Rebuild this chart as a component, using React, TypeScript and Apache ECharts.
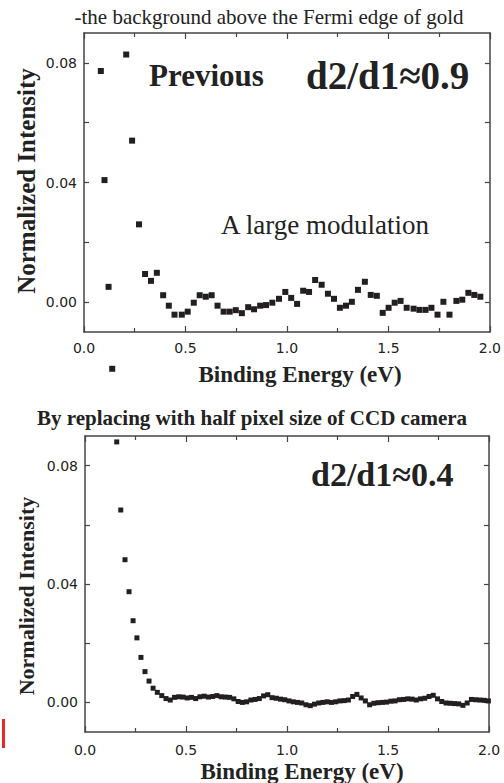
import React, { useEffect, useRef } from "react";
import * as echarts from "echarts";

const topX = [0.083, 0.101, 0.121, 0.139, 0.208, 0.237, 0.271, 0.301, 0.33, 0.359, 0.39, 0.418, 0.446, 0.482, 0.511, 0.541, 0.57, 0.6, 0.629, 0.658, 0.688, 0.718, 0.748, 0.778, 0.809, 0.838, 0.868, 0.897, 0.928, 0.961, 0.992, 1.021, 1.05, 1.08, 1.109, 1.139, 1.171, 1.202, 1.232, 1.261, 1.291, 1.32, 1.35, 1.384, 1.413, 1.443, 1.472, 1.501, 1.531, 1.56, 1.59, 1.624, 1.653, 1.683, 1.712, 1.742, 1.771, 1.801, 1.835, 1.864, 1.894, 1.923, 1.953];
const topY = [0.0773, 0.0408, 0.0051, -0.0223, 0.0828, 0.054, 0.026, 0.0094, 0.0071, 0.0098, 0.0023, -0.0012, -0.0042, -0.0042, -0.0032, -0.0002, 0.0023, 0.0018, 0.0023, -0.0012, -0.0032, -0.0032, -0.0027, -0.0037, -0.0017, -0.0024, -0.0012, -0.001, -0.0002, 0.0011, 0.0034, 0.0014, -0.0006, 0.0038, 0.0034, 0.0074, 0.0058, 0.0028, 0.0011, -0.0019, -0.0012, 0.0001, 0.0041, 0.0068, 0.0024, 0.0021, -0.0036, -0.0019, -0.0002, 0.0004, -0.0019, -0.0022, -0.0026, -0.0026, -0.0019, -0.0042, 0.0001, -0.0042, 0.0004, 0.0008, 0.0031, 0.0024, 0.0018];

const bottomX = [0.157, 0.177, 0.198, 0.218, 0.238, 0.257, 0.277, 0.297, 0.317, 0.337, 0.358, 0.38, 0.401, 0.422, 0.443, 0.464, 0.485, 0.506, 0.527, 0.548, 0.569, 0.59, 0.611, 0.632, 0.653, 0.674, 0.695, 0.716, 0.737, 0.758, 0.779, 0.8, 0.821, 0.842, 0.863, 0.884, 0.905, 0.926, 0.947, 0.968, 0.989, 1.01, 1.031, 1.052, 1.073, 1.094, 1.115, 1.136, 1.157, 1.178, 1.199, 1.22, 1.241, 1.262, 1.283, 1.304, 1.325, 1.346, 1.367, 1.388, 1.409, 1.43, 1.451, 1.472, 1.493, 1.514, 1.535, 1.556, 1.577, 1.598, 1.619, 1.64, 1.661, 1.682, 1.703, 1.724, 1.745, 1.766, 1.787, 1.808, 1.829, 1.85, 1.871, 1.892, 1.913, 1.934, 1.955, 1.976, 1.997];
const bottomY = [0.088, 0.065, 0.0482, 0.0374, 0.0276, 0.0218, 0.0152, 0.0104, 0.0072, 0.0048, 0.0034, 0.0023, 0.0013, 0.0008, 0.0017, 0.0019, 0.0018, 0.0015, 0.0017, 0.0013, 0.0019, 0.0021, 0.0018, 0.002, 0.0023, 0.0019, 0.0018, 0.0017, 0.0012, 0.0003, 0.0, 0.0002, 0.0008, 0.001, 0.0013, 0.0022, 0.0026, 0.0016, 0.0014, 0.0011, 0.0009, 0.0005, 0.0002, 0.0, -0.0002, -0.0008, -0.0011, -0.0006, -0.0002, 0.0, 0.0002, 0.0, 0.0002, 0.0005, 0.0006, 0.0008, 0.002, 0.0027, 0.0015, 0.0005, -0.0008, -0.0003, -0.0001, 0.0, 0.0001, 0.0004, 0.0005, 0.0009, 0.001, 0.0012, 0.0011, 0.0008, 0.0012, 0.0014, 0.002, 0.0024, 0.0012, 0.0003, -0.0002, -0.0003, -0.0004, -0.0005, -0.001, -0.0002, 0.001, 0.0009, 0.0008, 0.0007, 0.0005];

const yTickValues = [0, 0.02, 0.04, 0.06, 0.08];
const yLabelValues = [0, 0.04, 0.08];

const AXIS_COLOR = "#444";
const MARK_COLOR = "#231f20";

function xAxisDef(gridIndex: number, position: "top" | "bottom", showLabel: boolean, labelMargin: number) {
  return {
    type: "value",
    gridIndex,
    position,
    min: 0,
    max: 2,
    interval: 0.5,
    axisLine: { show: true, onZero: false, lineStyle: { color: AXIS_COLOR, width: 1.5 } },
    axisTick: { show: true, inside: true, length: 6, lineStyle: { color: AXIS_COLOR, width: 1.2 } },
    minorTick: { show: true, splitNumber: 2, length: 4, lineStyle: { color: AXIS_COLOR, width: 1.2 } },
    splitLine: { show: false },
    axisLabel: {
      show: showLabel,
      margin: labelMargin,
      fontFamily: "DejaVu Sans",
      fontSize: 14,
      color: "#222",
      formatter: (v: number) => v.toFixed(1),
    },
  };
}

function yAxisDef(gridIndex: number, position: "left" | "right", showLabel: boolean) {
  return {
    type: "value",
    gridIndex,
    position,
    min: -0.01,
    max: 0.09,
    axisLine: { show: true, onZero: false, lineStyle: { color: AXIS_COLOR, width: 1.5 } },
    axisTick: {
      show: true,
      inside: true,
      length: 5,
      customValues: yTickValues,
      lineStyle: { color: AXIS_COLOR, width: 1.2 },
    },
    splitLine: { show: false },
    axisLabel: {
      show: showLabel,
      margin: 7,
      customValues: yLabelValues,
      fontFamily: "DejaVu Sans",
      fontSize: 14,
      color: "#222",
      formatter: (v: number) => v.toFixed(2),
    },
  };
}

export default function App() {
  const ref = useRef<HTMLDivElement>(null);
  useEffect(() => {
    if (!ref.current) return;
    const chart = echarts.init(ref.current, undefined, { renderer: "svg" });
    const topData = topX.map((x, i) => [x, topY[i]]);
    const bottomData = bottomX.map((x, i) => [x, bottomY[i]]);
    const serifBold = (size: number) => `bold ${size}px "Liberation Serif", "Times New Roman", serif`;
    const serif = (size: number) => `${size}px "Liberation Serif", "Times New Roman", serif`;
    chart.setOption({
      animation: false,
      backgroundColor: "#ffffff",
      grid: [
        { left: 84, top: 33, width: 409, height: 299 },
        { left: 85, top: 436, width: 404, height: 296 },
      ],
      xAxis: [
        xAxisDef(0, "bottom", true, 9),
        xAxisDef(0, "top", false, 9),
        xAxisDef(1, "bottom", true, 11),
        xAxisDef(1, "top", false, 9),
      ],
      yAxis: [
        yAxisDef(0, "left", true),
        yAxisDef(0, "right", false),
        yAxisDef(1, "left", true),
        yAxisDef(1, "right", false),
      ],
      series: [
        {
          type: "scatter",
          xAxisIndex: 0,
          yAxisIndex: 0,
          data: topData,
          symbol: "rect",
          symbolSize: 6,
          clip: false,
          itemStyle: { color: MARK_COLOR, opacity: 1 },
        },
        {
          type: "scatter",
          xAxisIndex: 2,
          yAxisIndex: 2,
          data: bottomData,
          symbol: "rect",
          symbolSize: 5,
          clip: false,
          itemStyle: { color: MARK_COLOR, opacity: 1 },
        },
      ],
      graphic: [
        {
          type: "text",
          x: 269,
          y: 17,
          style: { text: "-the background above the Fermi edge of gold", font: serif(21), fill: "#222", textAlign: "center", textVerticalAlign: "middle" },
        },
        {
          type: "text",
          x: 149,
          y: 75,
          style: { text: "Previous", font: serifBold(31), fill: "#222", textAlign: "left", textVerticalAlign: "middle" },
        },
        {
          type: "text",
          x: 306,
          y: 75,
          style: { text: "d2/d1≈0.9", font: serifBold(39), fill: "#222", textAlign: "left", textVerticalAlign: "middle" },
        },
        {
          type: "text",
          x: 221,
          y: 225,
          style: { text: "A large modulation", font: serif(27), fill: "#222", textAlign: "left", textVerticalAlign: "middle" },
        },
        {
          type: "text",
          x: 26,
          y: 181,
          rotation: Math.PI / 2,
          style: { text: "Normalized Intensity", font: serifBold(25), fill: "#222", textAlign: "center", textVerticalAlign: "middle" },
        },
        {
          type: "text",
          x: 300,
          y: 374,
          style: { text: "Binding Energy (eV)", font: serifBold(23), fill: "#222", textAlign: "center", textVerticalAlign: "middle" },
        },
        {
          type: "text",
          x: 252,
          y: 418,
          style: { text: "By replacing with half pixel size of CCD camera", font: serifBold(21), fill: "#222", textAlign: "center", textVerticalAlign: "middle" },
        },
        {
          type: "text",
          x: 311,
          y: 474,
          style: { text: "d2/d1≈0.4", font: serifBold(34), fill: "#222", textAlign: "left", textVerticalAlign: "middle" },
        },
        {
          type: "text",
          x: 26,
          y: 596,
          rotation: Math.PI / 2,
          style: { text: "Normalized Intensity", font: serifBold(22), fill: "#222", textAlign: "center", textVerticalAlign: "middle" },
        },
        {
          type: "text",
          x: 302,
          y: 771,
          style: { text: "Binding Energy (eV)", font: serifBold(23), fill: "#222", textAlign: "center", textVerticalAlign: "middle" },
        },
        {
          type: "rect",
          shape: { x: 2, y: 719, width: 3, height: 29 },
          style: { fill: "#e8262b" },
        },
      ],
    });
    return () => chart.dispose();
  }, []);
  return (
    <div
      ref={ref}
      style={{ position: "absolute", left: 0, top: 0, width: 504, height: 783 }}
    />
  );
}
